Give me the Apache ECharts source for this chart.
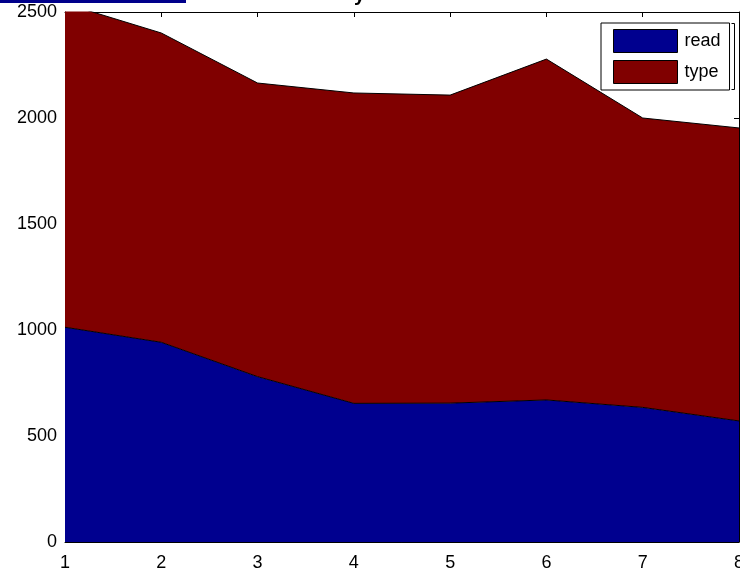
<!DOCTYPE html>
<html>
<head>
<meta charset="utf-8">
<script src="https://cdn.jsdelivr.net/npm/echarts@6/dist/echarts.min.js"></script>
<style>
html,body{margin:0;padding:0;background:#fff;}
#chart{width:740px;height:571px;}
</style>
</head>
<body>
<div id="chart"></div>
<script>
var categories = ['1', '2', '3', '4', '5', '6', '7', '8'];
var readValues = [1013, 942, 780, 654, 655, 670, 635, 571];
var typeValues = [1527, 1459, 1385, 1464, 1453, 1608, 1365, 1382];
var seriesNames = ['read', 'type'];
var yTicks = [0, 500, 1000, 1500, 2000, 2500];

var FONT = 'Liberation Sans, Arial, sans-serif';
var chart = echarts.init(document.getElementById('chart'), null, {renderer: 'canvas'});

function axisBase(showLabel) {
  return {
    axisLine: {show: true, onZero: false, lineStyle: {color: '#000', width: 1}},
    axisTick: {show: true, inside: true, length: 5, lineStyle: {color: '#000'}},
    splitLine: {show: false},
    axisLabel: {show: showLabel, color: '#000', fontFamily: FONT, fontSize: 18}
  };
}

var xBottom = Object.assign(axisBase(true), {
  type: 'category', data: categories, boundaryGap: false, position: 'bottom'
});
xBottom.axisLabel.margin = 12;
xBottom.axisTick.alignWithLabel = true;
var xTop = Object.assign(axisBase(false), {
  type: 'category', data: categories, boundaryGap: false, position: 'top'
});
var yLeft = Object.assign(axisBase(true), {
  type: 'value', min: yTicks[0], max: yTicks[yTicks.length - 1], interval: 500, position: 'left'
});
yLeft.axisLabel.margin = 8;
yLeft.axisLabel.padding = [5, 0, 0, 0];
yLeft.axisLabel.formatter = function (v) { return String(v); };
var yRight = Object.assign(axisBase(false), {
  type: 'value', min: yTicks[0], max: yTicks[yTicks.length - 1], interval: 500, position: 'right'
});

var fills = ['#00008F', '#800000'];

chart.setOption({
  animation: false,
  backgroundColor: '#fff',
  grid: {left: 65, right: 1, top: 12, bottom: 29, containLabel: false, outerBoundsMode: 'none'},
  legend: {
    show: true,
    orient: 'vertical',
    left: 601, top: 23,
    data: seriesNames,
    icon: 'rect',
    itemWidth: 64, itemHeight: 23, itemGap: 7,
    padding: [6, 9, 6, 12],
    backgroundColor: '#fff',
    borderColor: '#000', borderWidth: 1, borderRadius: 0,
    itemStyle: {borderColor: '#000', borderWidth: 1},
    textStyle: {color: '#000', fontFamily: FONT, fontSize: 18, padding: [0, 0, 0, 2]}
  },
  xAxis: [xBottom, xTop],
  yAxis: [yLeft, yRight],
  series: [
    {
      name: seriesNames[0], type: 'line', stack: 'total', data: readValues,
      xAxisIndex: 0, yAxisIndex: 0,
      symbol: 'none', clip: true,
      color: fills[0],
      itemStyle: {color: fills[0]},
      lineStyle: {color: '#000', width: 1},
      areaStyle: {color: fills[0], opacity: 1}
    },
    {
      name: seriesNames[1], type: 'line', stack: 'total', data: typeValues,
      xAxisIndex: 0, yAxisIndex: 0,
      symbol: 'none', clip: true,
      color: fills[1],
      itemStyle: {color: fills[1]},
      lineStyle: {color: '#000', width: 1},
      areaStyle: {color: fills[1], opacity: 1}
    }
  ],
  graphic: [
    {type: 'rect', left: 0, top: 0, shape: {width: 186, height: 3}, style: {fill: '#00008B'}, z: 100},
    {type: 'text', x: 354, y: 5, style: {text: 'y', font: 'bold 20px ' + FONT, fill: '#000', verticalAlign: 'bottom'}, z: 100},
    {type: 'polyline', shape: {points: [[731.5, 23.5], [734.5, 23.5], [734.5, 89.5], [731.5, 89.5]]}, style: {stroke: '#000', lineWidth: 1, fill: null}, z: 100}
  ]
});
</script>
</body>
</html>
